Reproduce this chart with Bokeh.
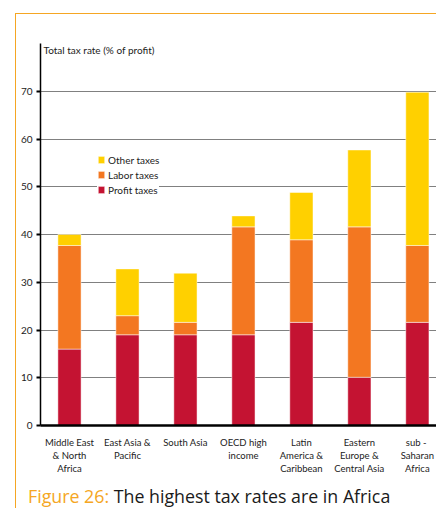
from bokeh.plotting import figure
from bokeh.models import (Range1d, FixedTicker, Legend, LegendItem, Label,
                          ColumnDataSource, Div, Spacer)
from bokeh.layouts import column, row
from bokeh.embed import file_html
from bokeh.resources import INLINE

categories = ["Middle East\n& North\nAfrica", "East Asia &\nPacific", "South Asia",
              "OECD high\nincome", "Latin\nAmerica &\nCaribbean",
              "Eastern\nEurope &\nCentral Asia", "sub  -\nSaharan\nAfrica"]
profit_taxes = [16.0, 19.0, 19.0, 19.0, 21.6, 10.1, 21.6]
labor_taxes = [21.7, 4.0, 2.6, 22.6, 17.3, 31.5, 16.1]
other_taxes = [2.3, 9.8, 10.3, 2.3, 9.9, 16.1, 32.1]
series_names = ["Profit taxes", "Labor taxes", "Other taxes"]
series_colors = ["#C41332", "#F37721", "#FFD000"]
y_ticks = [0, 10, 20, 30, 40, 50, 60, 70]
y_title = "Total tax rate (% of profit)"
caption_a = "Figure 26:"
caption_b = "The highest tax rates are in Africa"

SMALL_FONT = "Lato"
FRAME_ORANGE = "#F5A623"

xs = list(range(len(categories)))
source = ColumnDataSource(dict(x=xs, profit=profit_taxes, labor=labor_taxes, other=other_taxes))

p = figure(width=420, height=462, output_backend="svg", toolbar_location=None,
           x_range=Range1d(-0.5, 6.33), y_range=Range1d(0, 80),
           min_border_left=24, min_border_top=29, min_border_right=0,
           min_border_bottom=48, background_fill_color="white",
           border_fill_color="white", outline_line_color=None)

renderers = p.vbar_stack(["profit", "labor", "other"], x="x", width=0.4, source=source,
                         color=series_colors, line_color="white", line_width=0.8,
                         line_alpha=0.6)

legend = Legend(items=[LegendItem(label=series_names[i], renderers=[renderers[i]])
                       for i in (2, 1, 0)],
                location=(57, 229), orientation="vertical",
                label_text_font_size="10px", label_text_font=SMALL_FONT,
                label_text_color="#222222",
                glyph_width=8, glyph_height=9, label_height=13, spacing=2,
                padding=5, margin=0, label_standoff=3,
                background_fill_color="white", background_fill_alpha=1,
                border_line_color=None)
p.add_layout(legend, "center")

# axes
p.xaxis.ticker = FixedTicker(ticks=xs)
p.xaxis.major_label_overrides = {i: c for i, c in zip(xs, categories)}
p.xaxis.major_label_text_font = SMALL_FONT
p.xaxis.major_label_text_font_size = "9.5px"
p.xaxis.major_label_text_color = "#222222"
p.xaxis.major_label_standoff = 5
p.xaxis.major_tick_line_color = None
p.xaxis.minor_tick_line_color = None
p.xaxis.axis_line_color = "black"
p.xaxis.axis_line_width = 2.5

p.yaxis.ticker = FixedTicker(ticks=y_ticks)
p.yaxis.major_label_text_font = SMALL_FONT
p.yaxis.major_label_text_font_size = "10px"
p.yaxis.major_label_text_color = "#222222"
p.yaxis.major_label_standoff = 4
p.yaxis.major_tick_out = 4
p.yaxis.major_tick_in = 0
p.yaxis.major_tick_line_width = 2
p.yaxis.major_tick_line_color = "black"
p.yaxis.minor_tick_line_color = None
p.yaxis.axis_line_color = "black"
p.yaxis.axis_line_width = 1.5

p.xgrid.grid_line_color = None
p.ygrid.ticker = FixedTicker(ticks=y_ticks[1:])
p.ygrid.grid_line_color = "#808080"
p.ygrid.grid_line_width = 1

p.add_layout(Label(x=-0.5, y=78.6, x_offset=3, text=y_title, text_font=SMALL_FONT,
                   text_font_size="10px", text_color="#222222", text_baseline="middle"))

cap = Div(text=(f'<span style="color:{FRAME_ORANGE}">{caption_a}</span> '
                f'<span style="color:#1a1a1a">{caption_b}</span>'),
          width=420, height=32,
          styles={"font-family": "'Open Sans'", "font-size": "17.8px",
                  "padding-left": "7px", "padding-top": "4px",
                  "line-height": "22px", "white-space": "nowrap",
                  "box-sizing": "border-box"})

inner = column(p, cap, spacing=0,
               styles={"border-left": f"1px solid {FRAME_ORANGE}",
                       "border-top": f"1px solid {FRAME_ORANGE}"})
root = row(Spacer(width=15), column(Spacer(height=13), inner, spacing=0), spacing=0)

open("out.html", "w").write(file_html(root, INLINE))
